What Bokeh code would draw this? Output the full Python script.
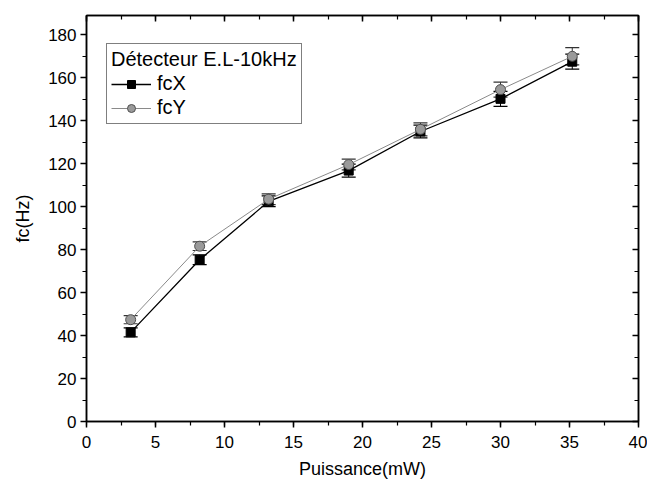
from bokeh.plotting import figure
from bokeh.models import (ColumnDataSource, Whisker, TeeHead, LinearAxis, Range1d,
                          SingleIntervalTicker, Legend, LegendItem, CustomJSTickFormatter)
from bokeh.embed import file_html
from bokeh.resources import INLINE

# Cut-off frequency vs optical power, E.L detector at 10 kHz
power = [3.2, 8.2, 13.2, 19.0, 24.2, 30.0, 35.2]
fcx = [41.5, 75.3, 102.5, 116.8, 135.0, 150.2, 167.5]
fcx_err = [2.1, 2.3, 2.5, 3.0, 3.0, 3.5, 3.5]
fcy = [47.4, 81.6, 103.5, 119.6, 136.0, 154.5, 170.0]
fcy_err = [1.9, 2.0, 2.5, 2.5, 3.0, 3.5, 4.0]

FONT = "Liberation Sans"

p = figure(width=647, height=484, output_backend="svg", toolbar_location=None,
           x_range=Range1d(0, 40), y_range=Range1d(0, 189),
           min_border_left=86, min_border_right=9, min_border_top=15, min_border_bottom=63)
p.background_fill_color = "white"
p.border_fill_color = "white"
p.grid.visible = False
p.outline_line_color = "black"
p.outline_line_width = 1.5

src_x = ColumnDataSource(dict(x=power, y=fcx, lo=[v - e for v, e in zip(fcx, fcx_err)],
                              hi=[v + e for v, e in zip(fcx, fcx_err)]))
src_y = ColumnDataSource(dict(x=power, y=fcy, lo=[v - e for v, e in zip(fcy, fcy_err)],
                              hi=[v + e for v, e in zip(fcy, fcy_err)]))

for src, col in ((src_x, "black"), (src_y, "#333333")):
    w = Whisker(source=src, base="x", lower="lo", upper="hi",
                line_color=col, line_width=1,
                lower_head=TeeHead(size=14, line_color=col, line_width=1.2),
                upper_head=TeeHead(size=14, line_color=col, line_width=1.2))
    p.add_layout(w)

lx = p.line("x", "y", source=src_x, line_color="black", line_width=1.3)
mx = p.scatter("x", "y", source=src_x, marker="square", size=9,
               fill_color="black", line_color="black")
ly = p.line("x", "y", source=src_y, line_color="#8a8a8a", line_width=1)
my = p.scatter("x", "y", source=src_y, marker="circle", size=10,
               fill_color="#9a9a9a", line_color="#505050", line_width=1)

p.xaxis.ticker = SingleIntervalTicker(interval=5, num_minor_ticks=2)
p.yaxis.ticker = SingleIntervalTicker(interval=20, num_minor_ticks=2)

for ax in (p.xaxis[0], p.yaxis[0]):
    ax.axis_line_width = 1.5
    ax.major_tick_line_width = 1.5
    ax.minor_tick_line_width = 1.2
    ax.major_tick_out = 6
    ax.major_tick_in = 0
    ax.minor_tick_out = 4
    ax.minor_tick_in = 0
    ax.major_label_text_font = FONT
    ax.major_label_text_font_size = "17px"
    ax.major_label_text_color = "black"
    ax.axis_label_text_font = FONT
    ax.axis_label_text_font_size = "18px"
    ax.axis_label_text_font_style = "normal"
    ax.axis_label_text_color = "black"

p.xaxis.axis_label = "Puissance(mW)"
p.yaxis.axis_label = "fc(Hz)"
p.xaxis.major_label_standoff = 8
p.yaxis.major_label_standoff = 4
p.xaxis.axis_label_standoff = 8
p.yaxis.axis_label_standoff = 12

# Mirror axes on top and right with inward ticks and no labels
top = LinearAxis(ticker=SingleIntervalTicker(interval=5, num_minor_ticks=2))
right = LinearAxis(ticker=SingleIntervalTicker(interval=20, num_minor_ticks=2))
for ax in (top, right):
    ax.axis_line_width = 1.5
    ax.major_tick_in = 6
    ax.major_tick_out = 0
    ax.minor_tick_in = 4
    ax.minor_tick_out = 0
    ax.major_tick_line_width = 1.5
    ax.minor_tick_line_width = 1.2
    ax.formatter = CustomJSTickFormatter(code="return ''")
    ax.major_label_standoff = 0
p.add_layout(top, "above")
p.add_layout(right, "right")

legend = Legend(items=[LegendItem(label="fcX", renderers=[lx, mx]),
                       LegendItem(label="fcY", renderers=[ly, my])],
                location=(20, 297), title="Détecteur E.L-10kHz")
legend.title_text_font = FONT
legend.title_text_font_size = "20px"
legend.title_text_font_style = "normal"
legend.title_text_color = "black"
legend.label_text_font = FONT
legend.label_text_font_size = "20px"
legend.label_text_color = "black"
legend.glyph_width = 40
legend.glyph_height = 20
legend.label_height = 20
legend.spacing = 1
legend.padding = 4
legend.title_standoff = 1
legend.label_standoff = 6
legend.border_line_color = "black"
legend.border_line_width = 1.2
legend.background_fill_alpha = 1
p.add_layout(legend)

open("out.html", "w").write(file_html(p, INLINE))
